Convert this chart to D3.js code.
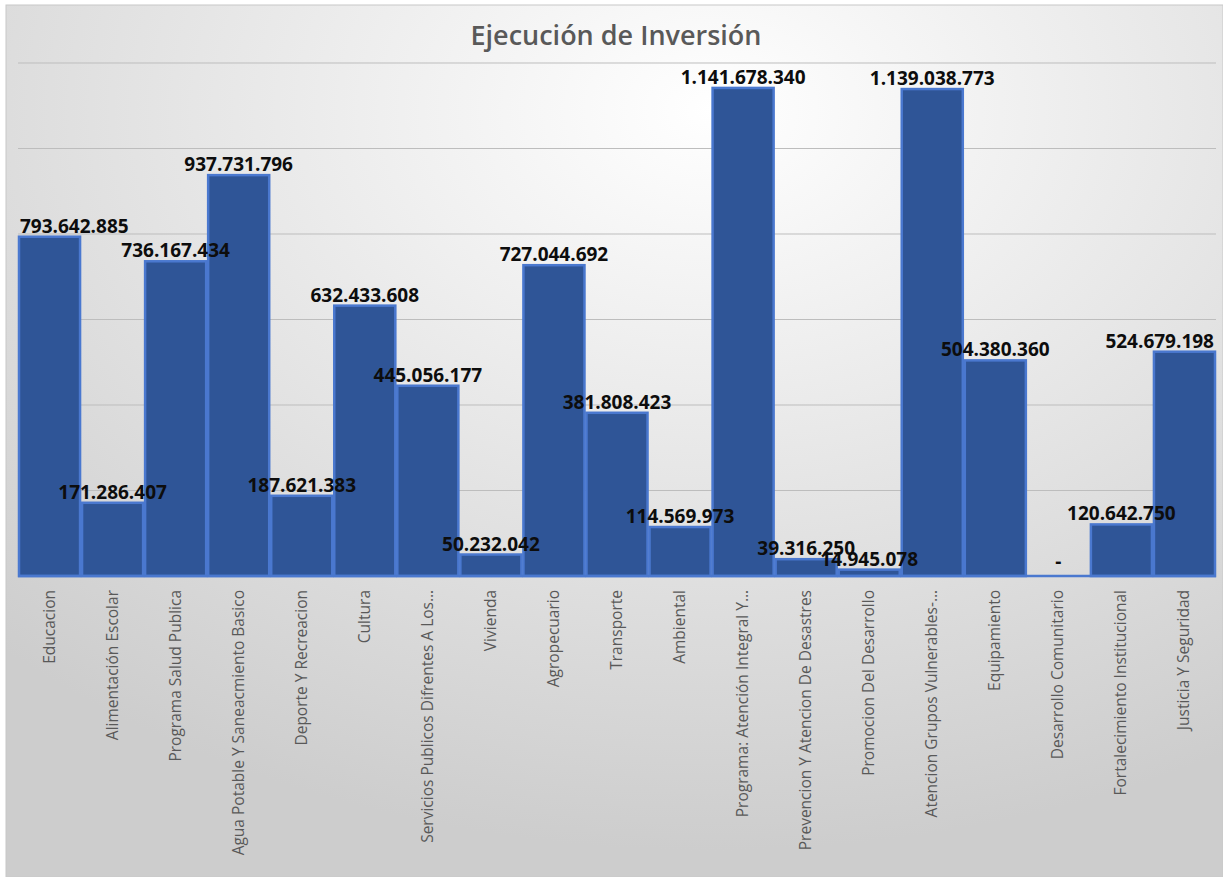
<!DOCTYPE html>
<html>
<head>
<meta charset="utf-8">
<script src="https://cdn.jsdelivr.net/npm/d3@7"></script>
<style>
  body { margin: 0; background: #ffffff; }
  svg { display: block; }
</style>
</head>
<body>
<div id="chart"></div>
<script>
// datos del gráfico
const categories = [
  'Educacion', 'Alimentación Escolar', 'Programa Salud Publica',
  'Agua Potable Y Saneacmiento Basico', 'Deporte Y Recreacion', 'Cultura',
  'Servicios Publicos Difrentes A Los…', 'Vivienda', 'Agropecuario',
  'Transporte', 'Ambiental', 'Programa: Atención Integral Y…',
  'Prevencion Y Atencion De Desastres', 'Promocion Del Desarrollo',
  'Atencion Grupos Vulnerables-…', 'Equipamiento', 'Desarrollo Comunitario',
  'Fortalecimiento Institucional', 'Justicia Y Seguridad'
];
const values = [
  793642885, 171286407, 736167434, 937731796, 187621383, 632433608,
  445056177, 50232042, 727044692, 381808423, 114569973, 1141678340,
  39316250, 14945078, 1139038773, 504380360, 0, 120642750, 524679198
];
const yTicks = [0, 200000000, 400000000, 600000000, 800000000, 1000000000, 1200000000];

const W = 1223, H = 877;
const plot = {left: 18, right: 1216, top: 63, bottom: 576};

const svg = d3.select('#chart').append('svg')
  .attr('width', W)
  .attr('height', H);

// fondo con degradado
const defs = svg.append('defs');
const grad = defs.append('radialGradient')
  .attr('id', 'bg')
  .attr('cx', '58%').attr('cy', '12%').attr('r', '85%');
grad.append('stop').attr('offset', '0%').attr('stop-color', '#ffffff');
grad.append('stop').attr('offset', '100%').attr('stop-color', '#cdcdcd');

svg.append('rect')
  .attr('x', 6).attr('y', 5)
  .attr('width', W - 6).attr('height', H - 5)
  .attr('fill', 'url(#bg)')
  .attr('stroke', '#c8c8c8')
  .attr('stroke-width', 1);

// escalas
const x = d3.scaleBand()
  .domain(categories)
  .range([plot.left, plot.right])
  .padding(0);

const y = d3.scaleLinear()
  .domain([0, 1200000000])
  .range([plot.bottom, plot.top]);

// líneas de cuadrícula
svg.append('g')
  .selectAll('line')
  .data(yTicks)
  .enter()
  .append('line')
  .attr('x1', plot.left)
  .attr('x2', plot.right)
  .attr('y1', d => y(d))
  .attr('y2', d => y(d))
  .attr('stroke', '#bdbdbd')
  .attr('stroke-width', 1);

// barras
svg.append('g')
  .selectAll('rect')
  .data(values)
  .enter()
  .append('rect')
  .attr('x', (d, i) => x(categories[i]) + 1)
  .attr('y', d => y(d))
  .attr('width', x.bandwidth() - 2)
  .attr('height', d => y(0) - y(d))
  .attr('fill', '#2f5597')
  .attr('stroke', '#4a78cf')
  .attr('stroke-width', 2.5);

// línea base
svg.append('line')
  .attr('x1', plot.left)
  .attr('x2', plot.right)
  .attr('y1', y(0))
  .attr('y2', y(0))
  .attr('stroke', '#4a78cf')
  .attr('stroke-width', 2.5);

// etiquetas de datos
const fmt = d3.formatLocale({decimal: ',', thousands: '.', grouping: [3], currency: ['', '']}).format(',d');

svg.append('g')
  .selectAll('text')
  .data(values)
  .enter()
  .append('text')
  .attr('x', (d, i) => x(categories[i]) + x.bandwidth() / 2)
  .attr('y', d => d === 0 ? y(0) - 8 : y(d) - 4)
  .attr('text-anchor', 'middle')
  .style('font-family', '"Open Sans", sans-serif')
  .style('font-weight', 700)
  .style('font-size', '19px')
  .attr('fill', '#0d0d0d')
  .text(d => d === 0 ? '-' : fmt(d))
  .each(function() {
    // mantener la etiqueta dentro del área del gráfico
    const el = d3.select(this);
    const w = this.getComputedTextLength();
    let cx = +el.attr('x');
    if (cx - w / 2 < plot.left + 2) cx = plot.left + 2 + w / 2;
    if (cx + w / 2 > plot.right - 2) cx = plot.right - 2 - w / 2;
    el.attr('x', cx);
  });

// etiquetas del eje X
svg.append('g')
  .selectAll('text')
  .data(categories)
  .enter()
  .append('text')
  .attr('transform', d => `translate(${x(d) + x.bandwidth() / 2 + 5}, ${plot.bottom + 14}) rotate(-90)`)
  .attr('text-anchor', 'end')
  .style('font-family', '"Open Sans", sans-serif')
  .style('font-size', '15.5px')
  .attr('fill', '#595959')
  .text(d => d);

// título
svg.append('text')
  .attr('x', 616)
  .attr('y', 45)
  .attr('text-anchor', 'middle')
  .style('font-family', '"Open Sans", sans-serif')
  .style('font-weight', 600)
  .style('font-size', '27px')
  .attr('fill', '#595959')
  .text('Ejecución de Inversión');
</script>
</body>
</html>
